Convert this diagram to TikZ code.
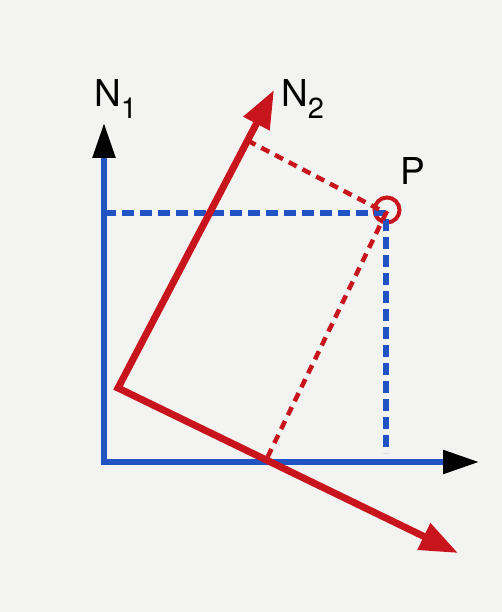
\documentclass[tikz,border=0pt]{standalone}
\usepackage{fontspec}
\setmainfont{TeX Gyre Heros}
\usetikzlibrary{arrows.meta,calc}
\definecolor{bgc}{HTML}{F3F3F1}
\definecolor{axblue}{HTML}{2253C2}
\definecolor{vred}{HTML}{C8141C}
\tikzset{
  bluax/.style={draw=axblue,line width=5.5pt,line join=miter},
  redax/.style={draw=vred,line width=7pt,line join=miter},
  bluedash/.style={draw=axblue,line width=6pt,dash pattern=on 12pt off 6pt},
  reddash/.style={draw=vred,line width=4.5pt,dash pattern=on 9pt off 6.5pt},
  lbl/.style={inner sep=0pt,anchor=base west,font=\fontsize{37}{40}\selectfont},
}
\newcommand{\subsc}[1]{\raisebox{-12pt}{\fontsize{29}{30}\selectfont #1}}
\begin{document}
\begin{tikzpicture}[x=1pt,y=-1pt]
\fill[bgc] (0,0) rectangle (502,612);
\useasboundingbox (0,0) rectangle (502,612);
% blue axes
\coordinate (C) at (104,462);
\coordinate (N1tip) at (104,123);
\coordinate (Xtip) at (479,462);
\draw[bluax,{Triangle[length=35pt,width=22pt,color=black]}-{Triangle[length=36pt,width=23pt,color=black]}] (N1tip) |- (Xtip);
% red axes
\coordinate (O) at (118,388);
\coordinate (N2tip) at (274,90);
\coordinate (Rtip) at (458,553);
% point P
\node[circle,draw=vred,line width=4pt,minimum size=25pt,inner sep=0pt] (P) at (387,210) {};
\coordinate (Pc) at (386,213);
% dashed projections
\coordinate (Py) at (104,213);
\coordinate (Px) at (386,453);
\draw[bluedash] (Py) -- (Pc) -- (Px);
\coordinate (F2) at ($(O)!(Pc)!(N2tip)$);
\coordinate (F1) at ($(O)!(Pc)!(Rtip)$);
\draw[reddash] (F2) -- (Pc) -- (F1);
\draw[redax,{Triangle[length=38pt,width=28pt]}-{Triangle[length=38pt,width=28pt]}] (N2tip) -- (O) -- (Rtip);
% labels
\node[lbl] (n1) at (94,107) {N\subsc{1}};
\node[lbl] (n2) at (281,107) {N\subsc{2}};
\node[lbl] (p) at (400,185) {P};
\end{tikzpicture}
\end{document}
